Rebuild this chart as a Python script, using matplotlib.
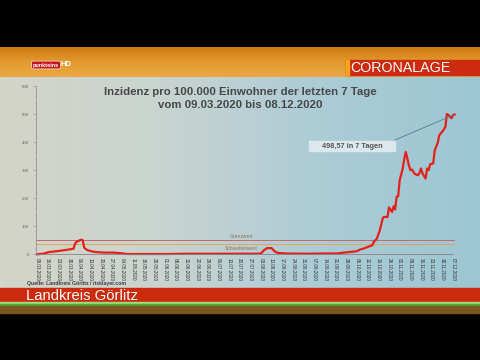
import matplotlib
matplotlib.use("Agg")
import matplotlib.pyplot as plt
import matplotlib.dates as mdates
import numpy as np
import pandas as pd
from matplotlib.colors import LinearSegmentedColormap
from matplotlib.ticker import MultipleLocator

plt.rcParams['font.family'] = ['Liberation Sans', 'DejaVu Sans']

# Werte (7-Tage-Inzidenz, Landkreis Görlitz)
dates = ["09.03.2020", "13.03.2020", "17.03.2020", "22.03.2020", "26.03.2020",
         "31.03.2020", "02.04.2020", "03.04.2020", "04.04.2020", "07.04.2020",
         "08.04.2020", "09.04.2020", "11.04.2020", "15.04.2020", "19.04.2020",
         "24.04.2020", "28.04.2020", "03.05.2020", "07.05.2020", "15.05.2020",
         "01.06.2020", "15.06.2020", "01.07.2020", "15.07.2020", "31.07.2020",
         "03.08.2020", "05.08.2020", "07.08.2020", "10.08.2020", "12.08.2020",
         "14.08.2020", "19.08.2020", "01.09.2020", "15.09.2020", "22.09.2020",
         "26.09.2020", "30.09.2020", "05.10.2020", "07.10.2020", "09.10.2020",
         "12.10.2020", "15.10.2020", "16.10.2020", "18.10.2020", "20.10.2020",
         "22.10.2020", "23.10.2020", "25.10.2020", "26.10.2020", "28.10.2020",
         "29.10.2020", "30.10.2020", "31.10.2020", "01.11.2020", "02.11.2020",
         "04.11.2020", "05.11.2020", "06.11.2020", "07.11.2020", "08.11.2020",
         "09.11.2020", "10.11.2020", "12.11.2020", "14.11.2020", "15.11.2020",
         "16.11.2020", "17.11.2020", "19.11.2020", "20.11.2020", "21.11.2020",
         "22.11.2020", "24.11.2020", "25.11.2020", "27.11.2020", "28.11.2020",
         "29.11.2020", "01.12.2020", "02.12.2020", "03.12.2020", "04.12.2020",
         "06.12.2020", "07.12.2020", "08.12.2020"]
inzidenz = [0, 2, 8, 11, 14,
            18, 20, 38, 45, 52,
            50, 23, 15, 9, 7,
            6, 6, 4, 1, 1,
            1, 2, 2, 2, 2,
            3, 15, 22, 22, 10,
            5, 3, 2, 3, 3,
            6, 8, 11, 17, 20,
            26, 32, 44, 56, 86,
            131, 133, 133, 167, 151,
            171, 160, 205, 207, 264,
            306, 340, 365, 342, 318,
            300, 302, 286, 282, 290,
            306, 288, 270, 306, 300,
            321, 324, 371, 398, 425,
            431, 445, 455, 500, 496,
            485, 496, 498.57]

grenzwert = 50
schwellenwert = 35
letzter_wert = "498,57 in 7 Tagen"

W, H = 480, 360
fig = plt.figure(figsize=(4.8, 3.6), dpi=100, facecolor="black")

# Hintergrund (Fernsehbild) in Pixelkoordinaten
bg = fig.add_axes([0, 0, 1, 1])
bg.set_facecolor("black")
orange = LinearSegmentedColormap.from_list("o", ["#cf7a12", "#e39a2e", "#eaa845"])
bg.imshow(np.linspace(0, 1, 50).reshape(-1, 1), cmap=orange, aspect="auto",
          extent=(0, W, 77, 47))
panel = LinearSegmentedColormap.from_list("p", ["#d4d4c9", "#c9d4d0", "#acccd6", "#9dc6d3"])
bg.imshow(np.linspace(0, 1, 100).reshape(1, -1), cmap=panel, aspect="auto",
          extent=(0, W, 288, 77))
bg.set_xlim(0, W)
bg.set_ylim(H, 0)
bg.set_xticks([])
bg.set_yticks([])
for s in bg.spines.values():
    s.set_visible(False)
bg.add_patch(plt.Rectangle((0, 288), W, 14, color="#cc2a0c"))
bg.add_patch(plt.Rectangle((0, 302), W, 1.5, color="#9fdc7a"))
bg.add_patch(plt.Rectangle((0, 303.5), W, 2.5, color="#4ea83a"))
bg.add_patch(plt.Rectangle((0, 306), W, 7, color="#7a5820"))
bg.add_patch(plt.Rectangle((346, 60), W - 346, 14.5, color="#cc2b0e"))
bg.add_patch(plt.Rectangle((346, 60), 2.5, 14.5, color="#f2a51e"))
bg.text(350, 67.5, "CORONALAGE", color="white", fontsize=10.3, va="center", ha="left")
bg.text(33, 65, "punkteins", color="white", fontsize=4, fontweight="bold", va="center",
        bbox=dict(boxstyle="round,pad=0.25", fc="#c8141c", ec="white", lw=0.4))
bg.text(60.5, 65, "HD", color="white", fontsize=5.5, fontweight="bold", va="center")
bg.text(240, 92, "Inzidenz pro 100.000 Einwohner der letzten 7 Tage", color="#474747",
        fontsize=8.2, fontweight="bold", ha="center", va="center")
bg.text(240, 105, "vom 09.03.2020 bis 08.12.2020", color="#474747",
        fontsize=8.2, fontweight="bold", ha="center", va="center")
bg.text(27, 283.5, "Quelle: Landkreis Görlitz / risklayer.com", color="#3a3a3a",
        fontsize=3.7, fontweight="bold", ha="left", va="center")
bg.text(26, 296, "Landkreis Görlitz", color="white", fontsize=10.7, ha="left", va="center")

# Kasten für den letzten Wert
bg.add_patch(plt.Rectangle((309, 141), 86, 10, color="#dde8ec", zorder=3))
bg.text(352, 146.2, letzter_wert, color="#555555", fontsize=5.3, fontweight="bold",
        ha="center", va="center", zorder=4)

# Diagramm
start = pd.Timestamp("2020-03-09")
x = pd.to_datetime(dates, format="%d.%m.%Y")
x0 = mdates.date2num(start)
ax = fig.add_axes([36 / W, 1 - 254.3 / H, (455 - 36) / W, (254.3 - 86) / H])
ax.patch.set_alpha(0)
ax.set_ylim(0, 600)
ax.set_xlim(x0 - 0.66, x0 + 274.3)

ax.axhline(grenzwert, color="#cc6464", lw=0.7, xmax=0.997)
ax.axhline(schwellenwert, color="#dca85a", lw=0.7, xmax=0.997)
ax.text(x0 + 134, grenzwert + 3, "Grenzwert", color="#9a6c52",
        fontsize=3.6, ha="center", va="bottom")
ax.text(x0 + 134, schwellenwert - 5, "Schwellenwert", color="#9a6c52",
        fontsize=3.6, ha="center", va="top")

ax.plot(x, inzidenz, color="#e4201a", lw=1.6, solid_joinstyle="round", clip_on=False)

ax.annotate("", xy=(mdates.date2num(x[-1]), inzidenz[-1]), xytext=(395, H - 140),
            textcoords="figure pixels",
            arrowprops=dict(arrowstyle="-", color="#4f7f8c", lw=0.6,
                            shrinkA=0, shrinkB=1))

ticks = pd.date_range("2020-03-09", "2020-12-07", freq="7D")
ax.set_xticks(mdates.date2num(ticks))
ax.set_xticklabels([t.strftime("%d.%m.%Y") for t in ticks], rotation=270,
                   fontsize=3.3, color="#333333")
ax.tick_params(axis="x", length=0, pad=3)
ax.yaxis.set_major_locator(MultipleLocator(100))
ax.yaxis.set_minor_locator(MultipleLocator(20))
ax.tick_params(axis="y", which="major", length=2, width=0.4, color="#888888",
               labelsize=3.2, labelcolor="#666666", pad=3)
ax.tick_params(axis="y", which="minor", length=1, width=0.3, color="#999999")
for s in ["top", "right"]:
    ax.spines[s].set_visible(False)
ax.spines["left"].set_color("#8a8a8a")
ax.spines["left"].set_linewidth(0.5)
ax.spines["bottom"].set_color("#8a7f8a")
ax.spines["bottom"].set_linewidth(0.6)
ax.spines["bottom"].set_bounds(x0 - 0.66, x0 + 273.3)

fig.savefig("out.png", dpi=100, facecolor="black")
